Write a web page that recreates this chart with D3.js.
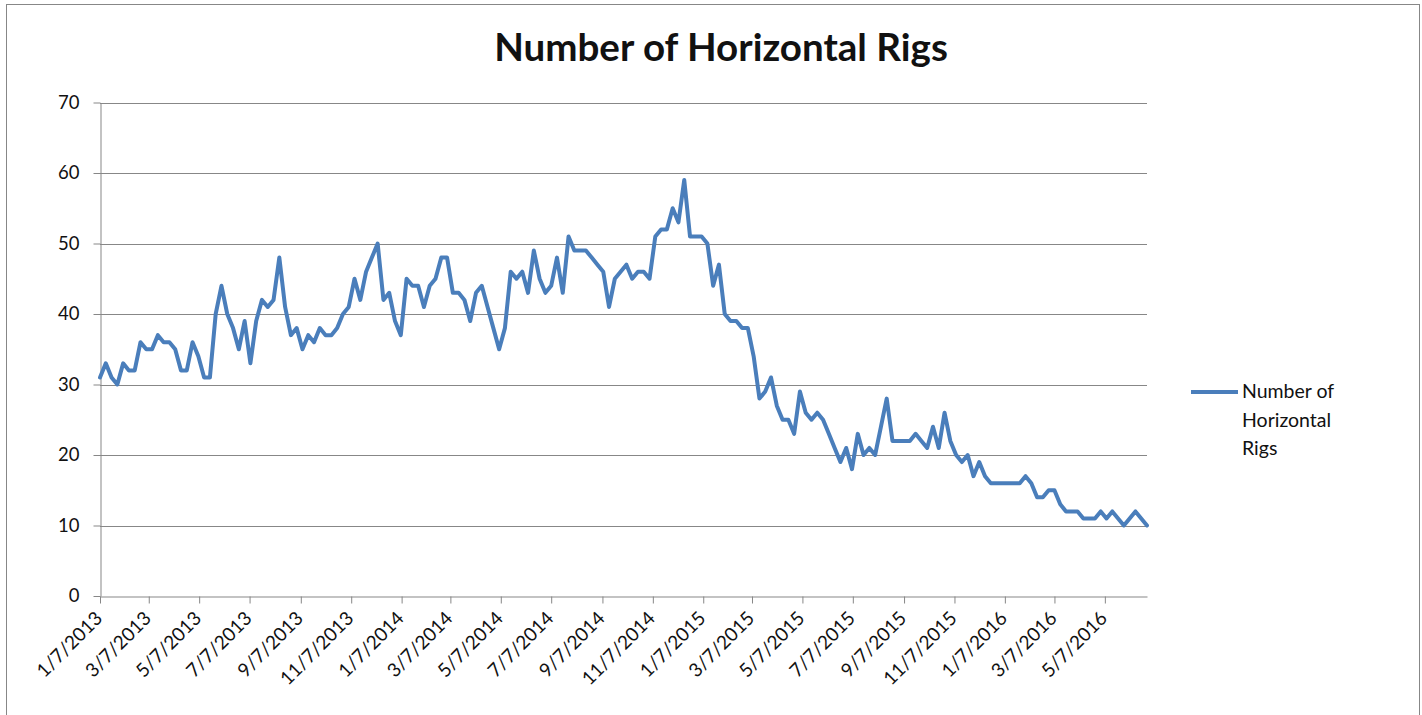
<!DOCTYPE html>
<html>
<head>
<meta charset="utf-8">
<script src="https://cdn.jsdelivr.net/npm/d3@7"></script>
<style>
body { margin: 0; background: #fff; }
text { font-family: Lato, "Open Sans", sans-serif; fill: #111; }
</style>
</head>
<body>
<svg id="chart" width="1422" height="715"></svg>
<script>
// weekly horizontal rig counts, first week is 1/7/2013
var firstWeek = "1/7/2013";
var rigCounts = [
  31, 33, 31, 30, 33, 32, 32, 36, 35, 35, 37, 36, 36, 35, 32, 32, 36, 34, 31, 31,
  40, 44, 40, 38, 35, 39, 33, 39, 42, 41, 42, 48, 41, 37, 38, 35, 37, 36, 38, 37,
  37, 38, 40, 41, 45, 42, 46, 48, 50, 42, 43, 39, 37, 45, 44, 44, 41, 44, 45, 48,
  48, 43, 43, 42, 39, 43, 44, 41, 38, 35, 38, 46, 45, 46, 43, 49, 45, 43, 44, 48,
  43, 51, 49, 49, 49, 48, 47, 46, 41, 45, 46, 47, 45, 46, 46, 45, 51, 52, 52, 55,
  53, 59, 51, 51, 51, 50, 44, 47, 40, 39, 39, 38, 38, 34, 28, 29, 31, 27, 25, 25,
  23, 29, 26, 25, 26, 25, 23, 21, 19, 21, 18, 23, 20, 21, 20, 24, 28, 22, 22, 22,
  22, 23, 22, 21, 24, 21, 26, 22, 20, 19, 20, 17, 19, 17, 16, 16, 16, 16, 16, 16,
  17, 16, 14, 14, 15, 15, 13, 12, 12, 12, 11, 11, 11, 12, 11, 12, 11, 10, 11, 12,
  11, 10
];
var tickLabels = [
  "1/7/2013", "3/7/2013", "5/7/2013", "7/7/2013", "9/7/2013", "11/7/2013",
  "1/7/2014", "3/7/2014", "5/7/2014", "7/7/2014", "9/7/2014", "11/7/2014",
  "1/7/2015", "3/7/2015", "5/7/2015", "7/7/2015", "9/7/2015", "11/7/2015",
  "1/7/2016", "3/7/2016", "5/7/2016"
];
var yTicks = [0, 10, 20, 30, 40, 50, 60, 70];
var title = "Number of Horizontal Rigs";
var legendLines = ["Number of", "Horizontal", "Rigs"];

var parseDate = d3.timeParse("%m/%d/%Y");
var start = parseDate(firstWeek);
var data = rigCounts.map(function(v, i) {
    return { date: d3.timeDay.offset(start, 7 * i), value: v };
});
var tickDates = tickLabels.map(parseDate);

var svg = d3.select("#chart");
var gridColor = "#878787";
var lineColor = "#4a7ebb";

// chart frame
svg.append("rect")
    .attr("x", 6.5).attr("y", 4.5)
    .attr("width", 1413).attr("height", 730)
    .attr("fill", "none")
    .attr("stroke", gridColor);

var x = d3.scaleTime()
    .domain(d3.extent(data, function(d) { return d.date; }))
    .range([100, 1147]);
var y = d3.scaleLinear()
    .domain([0, 70])
    .range([596, 102.5]);

// gridlines
svg.append("g").selectAll("line")
    .data(yTicks.filter(function(t) { return t > 0; }))
    .enter().append("line")
    .attr("x1", 100).attr("x2", 1147)
    .attr("y1", function(d) { return Math.round(y(d)) + 0.5; })
    .attr("y2", function(d) { return Math.round(y(d)) + 0.5; })
    .attr("stroke", gridColor);

// y axis
var yAxis = svg.append("g")
    .attr("transform", "translate(100.5,0)")
    .call(d3.axisLeft(y).tickValues(yTicks).tickSize(7).tickPadding(14).tickSizeOuter(0));
yAxis.selectAll("line, path").attr("stroke", gridColor);
yAxis.selectAll("text").style("font-size", "18.5px").attr("fill", "#111");

// x axis
var xAxis = svg.append("g")
    .attr("transform", "translate(0,596.5)")
    .call(d3.axisBottom(x).tickValues(tickDates).tickSize(7).tickSizeOuter(0)
        .tickFormat(function(d, i) { return tickLabels[i]; }));
xAxis.selectAll("line, path").attr("stroke", gridColor);
xAxis.selectAll("text")
    .style("font-size", "19px")
    .attr("fill", "#111")
    .attr("text-anchor", "end")
    .attr("dy", null)
    .attr("y", 0)
    .attr("transform", "translate(3,23) rotate(-45)");

// series line
var line = d3.line()
    .x(function(d) { return x(d.date); })
    .y(function(d) { return y(d.value); });
svg.append("path")
    .datum(data)
    .attr("d", line)
    .attr("fill", "none")
    .attr("stroke", lineColor)
    .attr("stroke-width", 4)
    .attr("stroke-linejoin", "round")
    .attr("stroke-linecap", "round");

// title, sized to the width it has in the picture
var t = svg.append("text")
    .attr("x", 721).attr("y", 61)
    .attr("text-anchor", "middle")
    .style("font-size", "30px")
    .style("font-weight", "bold")
    .text(title);
var w = t.node().getComputedTextLength();
t.style("font-size", (30 * 454 / w) + "px");

// legend
svg.append("line")
    .attr("x1", 1191).attr("x2", 1238)
    .attr("y1", 392).attr("y2", 392)
    .attr("stroke", lineColor)
    .attr("stroke-width", 4);
svg.append("g").selectAll("text")
    .data(legendLines)
    .enter().append("text")
    .attr("x", 1242)
    .attr("y", function(d, i) { return 398 + i * 28.5; })
    .style("font-size", "19.5px")
    .text(function(d) { return d; });
</script>
</body>
</html>
